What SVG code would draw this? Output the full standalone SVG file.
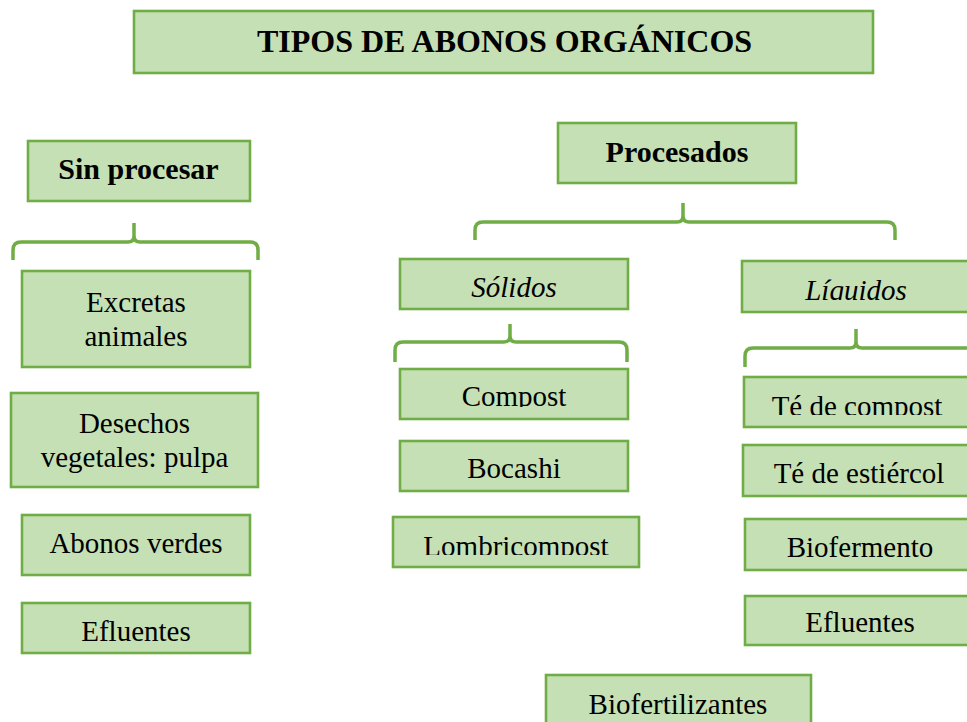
<svg xmlns="http://www.w3.org/2000/svg" width="967" height="722" viewBox="0 0 967 722">
<style>
.box{fill:#C5E0B4;stroke:#70AD47;stroke-width:2.6}
.t{font-family:"Liberation Serif","Times New Roman",serif;font-size:29px;fill:#000;text-anchor:middle}
.b{font-weight:bold;font-size:30px}
.i{font-style:italic}
.brace{fill:none;stroke:#70AD47;stroke-width:3.5;stroke-linejoin:round}
</style>
<defs>
<clipPath id="cLiq" clipPathUnits="userSpaceOnUse"><rect x="742" y="261" width="230" height="39"/></clipPath>
<clipPath id="cComp" clipPathUnits="userSpaceOnUse"><rect x="400" y="369" width="228" height="38"/></clipPath>
<clipPath id="cLomb" clipPathUnits="userSpaceOnUse"><rect x="393" y="517" width="246" height="38"/></clipPath>
<clipPath id="cTeC" clipPathUnits="userSpaceOnUse"><rect x="744" y="377" width="230" height="38"/></clipPath>
</defs>
<rect width="967" height="722" fill="#fff"/>

<g id="connectors">
<path class="brace" d="M13,260 L13,250 Q13,242 21,242 L128,242 Q134,242 134,236 L134,223 M134,236 Q134,242 140,242 L250,242 Q258,242 258,250 L258,260"/>
<path class="brace" d="M475,240 L475,230 Q475,222 483,222 L677,222 Q683,222 683,216 L683,203 M683,216 Q683,222 689,222 L887,222 Q895,222 895,230 L895,240"/>
<path class="brace" d="M395,362 L395,350 Q395,342 403,342 L504,342 Q510,342 510,336 L510,324 M510,336 Q510,342 516,342 L619,342 Q627,342 627,350 L627,362"/>
<path class="brace" d="M745,367 L745,356 Q745,348 753,348 L850,348 Q856,348 856,342 L856,329 M856,342 Q856,348 862,348 L975,348"/>
</g>

<g id="title"><rect class="box" x="134" y="11" width="739" height="62"/><text class="t b" x="504.5" y="52" style="font-size:32px">TIPOS DE ABONOS ORGÁNICOS</text></g>

<g id="sin-procesar"><rect class="box" x="28" y="141" width="222" height="60"/><text class="t b" x="138.5" y="179">Sin procesar</text></g>
<g id="excretas"><rect class="box" x="22" y="271" width="228" height="96"/><text class="t" x="136" y="312">Excretas</text><text class="t" x="136" y="346">animales</text></g>
<g id="desechos"><rect class="box" x="11" y="393" width="247" height="94"/><text class="t" x="134.5" y="433">Desechos</text><text class="t" x="134.5" y="467">vegetales: pulpa</text></g>
<g id="abonos-verdes"><rect class="box" x="22" y="515" width="228" height="60"/><text class="t" x="136" y="553">Abonos verdes</text></g>
<g id="efluentes-1"><rect class="box" x="22" y="603" width="228" height="50"/><text class="t" x="136" y="641">Efluentes</text></g>

<g id="procesados"><rect class="box" x="558" y="123" width="238" height="60"/><text class="t b" x="677" y="162">Procesados</text></g>

<g id="solidos"><rect class="box" x="400" y="259" width="228" height="50"/><text class="t i" x="514" y="297">Sólidos</text></g>
<g id="compost"><rect class="box" x="400" y="369" width="228" height="50"/><text class="t" x="514" y="406" clip-path="url(#cComp)">Compost</text></g>
<g id="bocashi"><rect class="box" x="400" y="441" width="228" height="50"/><text class="t" x="514" y="478">Bocashi</text></g>
<g id="lombricompost"><rect class="box" x="393" y="517" width="246" height="50"/><text class="t" x="516" y="556" clip-path="url(#cLomb)">Lombricompost</text></g>

<g id="liquidos"><rect class="box" x="742" y="261" width="230" height="51"/><text class="t i" x="856" y="300" clip-path="url(#cLiq)">Líquidos</text></g>
<g id="te-compost"><rect class="box" x="744" y="377" width="230" height="50"/><text class="t" x="857" y="416" clip-path="url(#cTeC)">Té de compost</text></g>
<g id="te-estiercol"><rect class="box" x="743" y="445" width="230" height="51"/><text class="t" x="859" y="483">Té de estiércol</text></g>
<g id="biofermento"><rect class="box" x="745" y="519" width="230" height="51"/><text class="t" x="860" y="557">Biofermento</text></g>
<g id="efluentes-2"><rect class="box" x="745" y="596" width="230" height="49"/><text class="t" x="860" y="632">Efluentes</text></g>

<g id="biofertilizantes"><rect class="box" x="546" y="675" width="265" height="60"/><text class="t" x="678" y="714">Biofertilizantes</text></g>
</svg>
